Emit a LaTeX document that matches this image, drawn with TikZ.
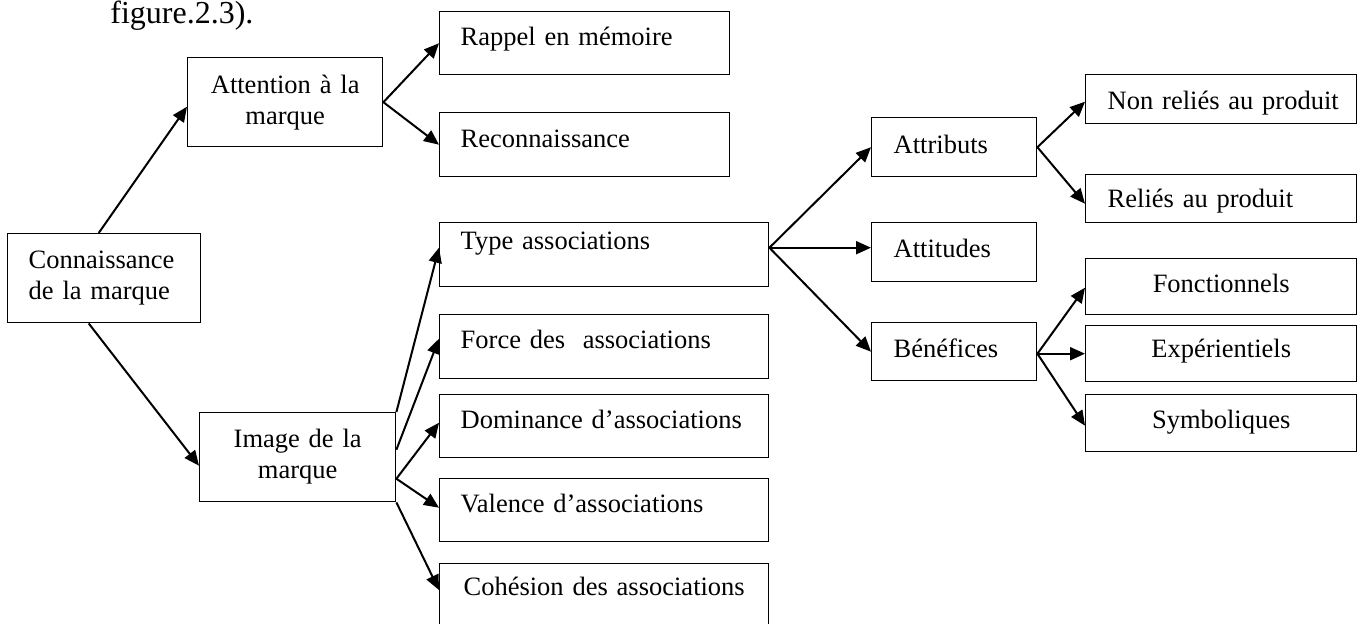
\documentclass[tikz,border=0pt]{standalone}
\usepackage{fontspec}
\setmainfont{Liberation Serif}
\usetikzlibrary{arrows.meta,calc}

\tikzset{
  bx/.style={draw, line width=0.7pt, inner ysep=0pt, anchor=north west,
             font=\fontsize{13.25}{15.5}\selectfont},
  lft/.style={bx, align=left},
  ctr/.style={bx, align=center},
  arr/.style={line width=1pt, -{Triangle[length=7.5pt,width=6.5pt]}},
}

\begin{document}
\begin{tikzpicture}[x=0.5pt, y=-0.5pt]
\useasboundingbox (0,0) rectangle (1363,623);
\clip (0,0) rectangle (1363,623);

% caption fragment above the chart
\node[font=\fontsize{16}{19}\selectfont, anchor=base west, inner sep=0pt] (fig) at (110,23) {figure.2.3).};

% root and first level
\node[lft, inner xsep=10.5pt, text width=75.5pt, text height=17.5pt, text depth=27pt] (conn) at (7,233) {Connaissance\\de la marque};
\node[ctr, inner xsep=5pt, text width=87.5pt, text height=18pt, text depth=26.5pt] (att) at (187,57) {Attention à la\\marque};
\node[ctr, inner xsep=5pt, text width=88pt, text height=17.5pt, text depth=27pt] (img) at (199,412) {Image de la\\marque};

% awareness branch
\node[lft, inner xsep=10.5pt, text width=124pt, text height=17pt, text depth=14.5pt] (rap) at (439,11) {Rappel en mémoire};
\node[lft, inner xsep=10.5pt, text width=124pt, text height=17.5pt, text depth=14.5pt] (rec) at (439,112) {Reconnaissance};

% image branch
\node[lft, inner xsep=10.5pt, text width=143.5pt, text height=13.25pt, text depth=18.75pt] (type) at (439,222) {Type associations};
\node[lft, inner xsep=10.5pt, text width=143.5pt, text height=17pt, text depth=15pt] (force) at (439,314) {Force des~ associations};
\node[lft, inner xsep=10.5pt, text width=143.5pt, text height=17pt, text depth=14.5pt] (dom) at (439,394) {\mbox{Dominance d’associations}};
\node[lft, inner xsep=10.5pt, text width=143.5pt, text height=17pt, text depth=14.5pt] (val) at (439,478) {Valence d’associations};
\node[ctr, inner xsep=5pt, text width=154.5pt, text height=16pt, text depth=17.5pt] (coh) at (439,563) {\mbox{Cohésion des associations}};

% types of associations
\node[lft, inner xsep=11pt, text width=60.5pt, text height=18pt, text depth=11.5pt] (attr) at (871,117) {Attributs};
\node[lft, inner xsep=11pt, text width=60.5pt, text height=17.5pt, text depth=12pt] (atti) at (871,222) {Attitudes};
\node[lft, inner xsep=11pt, text width=60.5pt, text height=17.5pt, text depth=11.5pt] (ben) at (871,322) {Bénéfices};

% attributes
\node[lft, inner xsep=11pt, text width=113.5pt, text height=17.5pt, text depth=7pt] (nonr) at (1085,74) {\mbox{Non reliés au produit}};
\node[lft, inner xsep=11pt, text width=113.5pt, text height=16.5pt, text depth=7.5pt] (rel) at (1085,174) {Reliés au produit};

% benefits
\node[ctr, inner xsep=5pt, text width=125.5pt, text height=17pt, text depth=11pt] (fonc) at (1085,258) {Fonctionnels};
\node[ctr, inner xsep=5pt, text width=125.5pt, text height=16pt, text depth=12pt] (exp) at (1085,325) {Expérientiels};
\node[ctr, inner xsep=5pt, text width=125.5pt, text height=17pt, text depth=11.5pt] (sym) at (1085,394) {Symboliques};

% connectors
\draw[arr] ($(conn.north)+(-5.5,0)$) -- ($(att.west)+(0,4.5)$);
\draw[arr] ($(conn.south)+(-15.5,0)$) -- ($(img.west)+(0,8.5)$);

\draw[arr] (att.east) -- (rap.west);
\draw[arr] (att.east) -- (rec.west);

\draw[arr] (img.north east) -- ($(type.west)+(0,-7)$);
\draw[arr] ($(img.east)+(0,-7.5)$) -- ($(force.west)+(0,-8)$);
\draw[arr] ($(img.east)+(0,21.5)$) -- ($(dom.west)+(0,-3.5)$);
\draw[arr] ($(img.east)+(0,21.5)$) -- ($(val.west)+(0,-2.5)$);
\draw[arr] (img.south east) -- ($(coh.north west)+(0,27)$);

\draw[arr] ($(type.east)+(0,-7)$) -- (attr.west);
\draw[arr] ($(type.east)+(0,-7)$) -- ($(atti.west)+(0,-4.5)$);
\draw[arr] ($(type.east)+(0,-7)$) -- (ben.west);

\draw[arr] (attr.east) -- ($(nonr.west)+(0,2.5)$);
\draw[arr] (attr.east) -- ($(rel.west)+(0,5)$);

\draw[arr] ($(ben.east)+(0,2)$) -- ($(fonc.west)+(0,1)$);
\draw[arr] ($(ben.east)+(0,2)$) -- (exp.west);
\draw[arr] ($(ben.east)+(0,2)$) -- ($(sym.west)+(0,2.5)$);
\end{tikzpicture}
\end{document}
